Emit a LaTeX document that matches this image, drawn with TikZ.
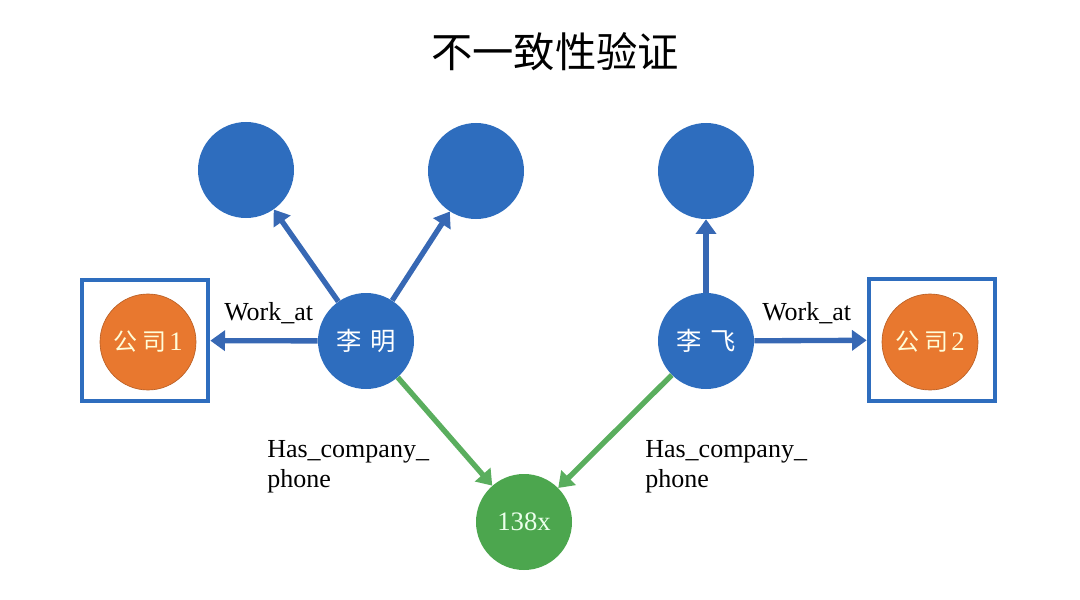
\documentclass[tikz,border=0pt]{standalone}
\usepackage{fontspec}
\setmainfont{Liberation Serif}
\newfontfamily\cjk{Noto Sans CJK SC}
\usetikzlibrary{arrows.meta}
\definecolor{nblue}{HTML}{2E6DBE}
\definecolor{ablue}{HTML}{3768B4}
\definecolor{norange}{HTML}{E8782F}
\definecolor{ngreen}{HTML}{4CA64E}
\definecolor{agreen}{HTML}{5AAE5E}
\begin{document}
\begin{tikzpicture}[x=0.75pt,y=-0.75pt,
  bnode/.style={circle,fill=nblue,minimum size=72pt,inner sep=0pt,text=white,font=\cjk\fontsize{19}{21}\selectfont},
  onode/.style={circle,fill=norange,draw=norange!80!black,line width=0.5pt,minimum size=72pt,inner sep=0pt,text=yellow!15,font=\fontsize{20}{22}\selectfont},
  gnode/.style={circle,fill=ngreen,minimum size=72pt,inner sep=0pt,text=green!8,font=\fontsize{20}{22}\selectfont},
  cbox/.style={draw=nblue,line width=3pt,minimum width=95pt,minimum height=91pt,inner sep=0pt},
  barrow/.style={draw=ablue,line width=4pt,-{Triangle[width=15pt,length=11pt]}},
  garrow/.style={draw=agreen,line width=4pt,-{Triangle[width=15pt,length=11pt]}},
  elabel/.style={font=\fontsize{19.5}{23}\selectfont,text=black,inner sep=0pt,align=left}
]
\useasboundingbox (0,0) rectangle (1080,599);
\node[font=\cjk\fontsize{31}{34}\selectfont] (title) at (555,52) {不一致性验证};

\node[bnode] (t1) at (246,170) {};
\node[bnode] (t2) at (476,171) {};
\node[bnode] (t3) at (706,171) {};
\node[bnode] (lm) at (366,341) {李\hspace{7pt}明};
\node[bnode] (lf) at (706,341) {李\hspace{7pt}飞};
\node[cbox] (box1) at (145,340.5) {};
\node[cbox] (box2) at (932,340) {};
\node[onode] (c1) at (148,342) {{\cjk\fontsize{18}{20}\selectfont 公\hspace{4pt}司}\hspace{2pt}1};
\node[onode] (c2) at (930,342) {{\cjk\fontsize{18}{20}\selectfont 公\hspace{4pt}司}\hspace{2pt}2};
\node[gnode] (ph) at (524,522) {138x};

\draw[barrow] (lm) -- (t1);
\draw[barrow] (lm) -- (t2);
\draw[barrow] (lf) -- (t3);
\draw[barrow] (lm) -- (box1);
\draw[barrow] (lf) -- (box2);
\draw[garrow] (lm) -- (ph);
\draw[garrow] (lf) -- (ph);

\node[elabel,anchor=west] (w1) at (224,313) {Work\_at};
\node[elabel,anchor=west] (w2) at (762,313) {Work\_at};
\node[elabel,anchor=north west] (h1) at (267,440) {Has\_company\_\\phone};
\node[elabel,anchor=north west] (h2) at (645,440) {Has\_company\_\\phone};
\end{tikzpicture}
\end{document}
